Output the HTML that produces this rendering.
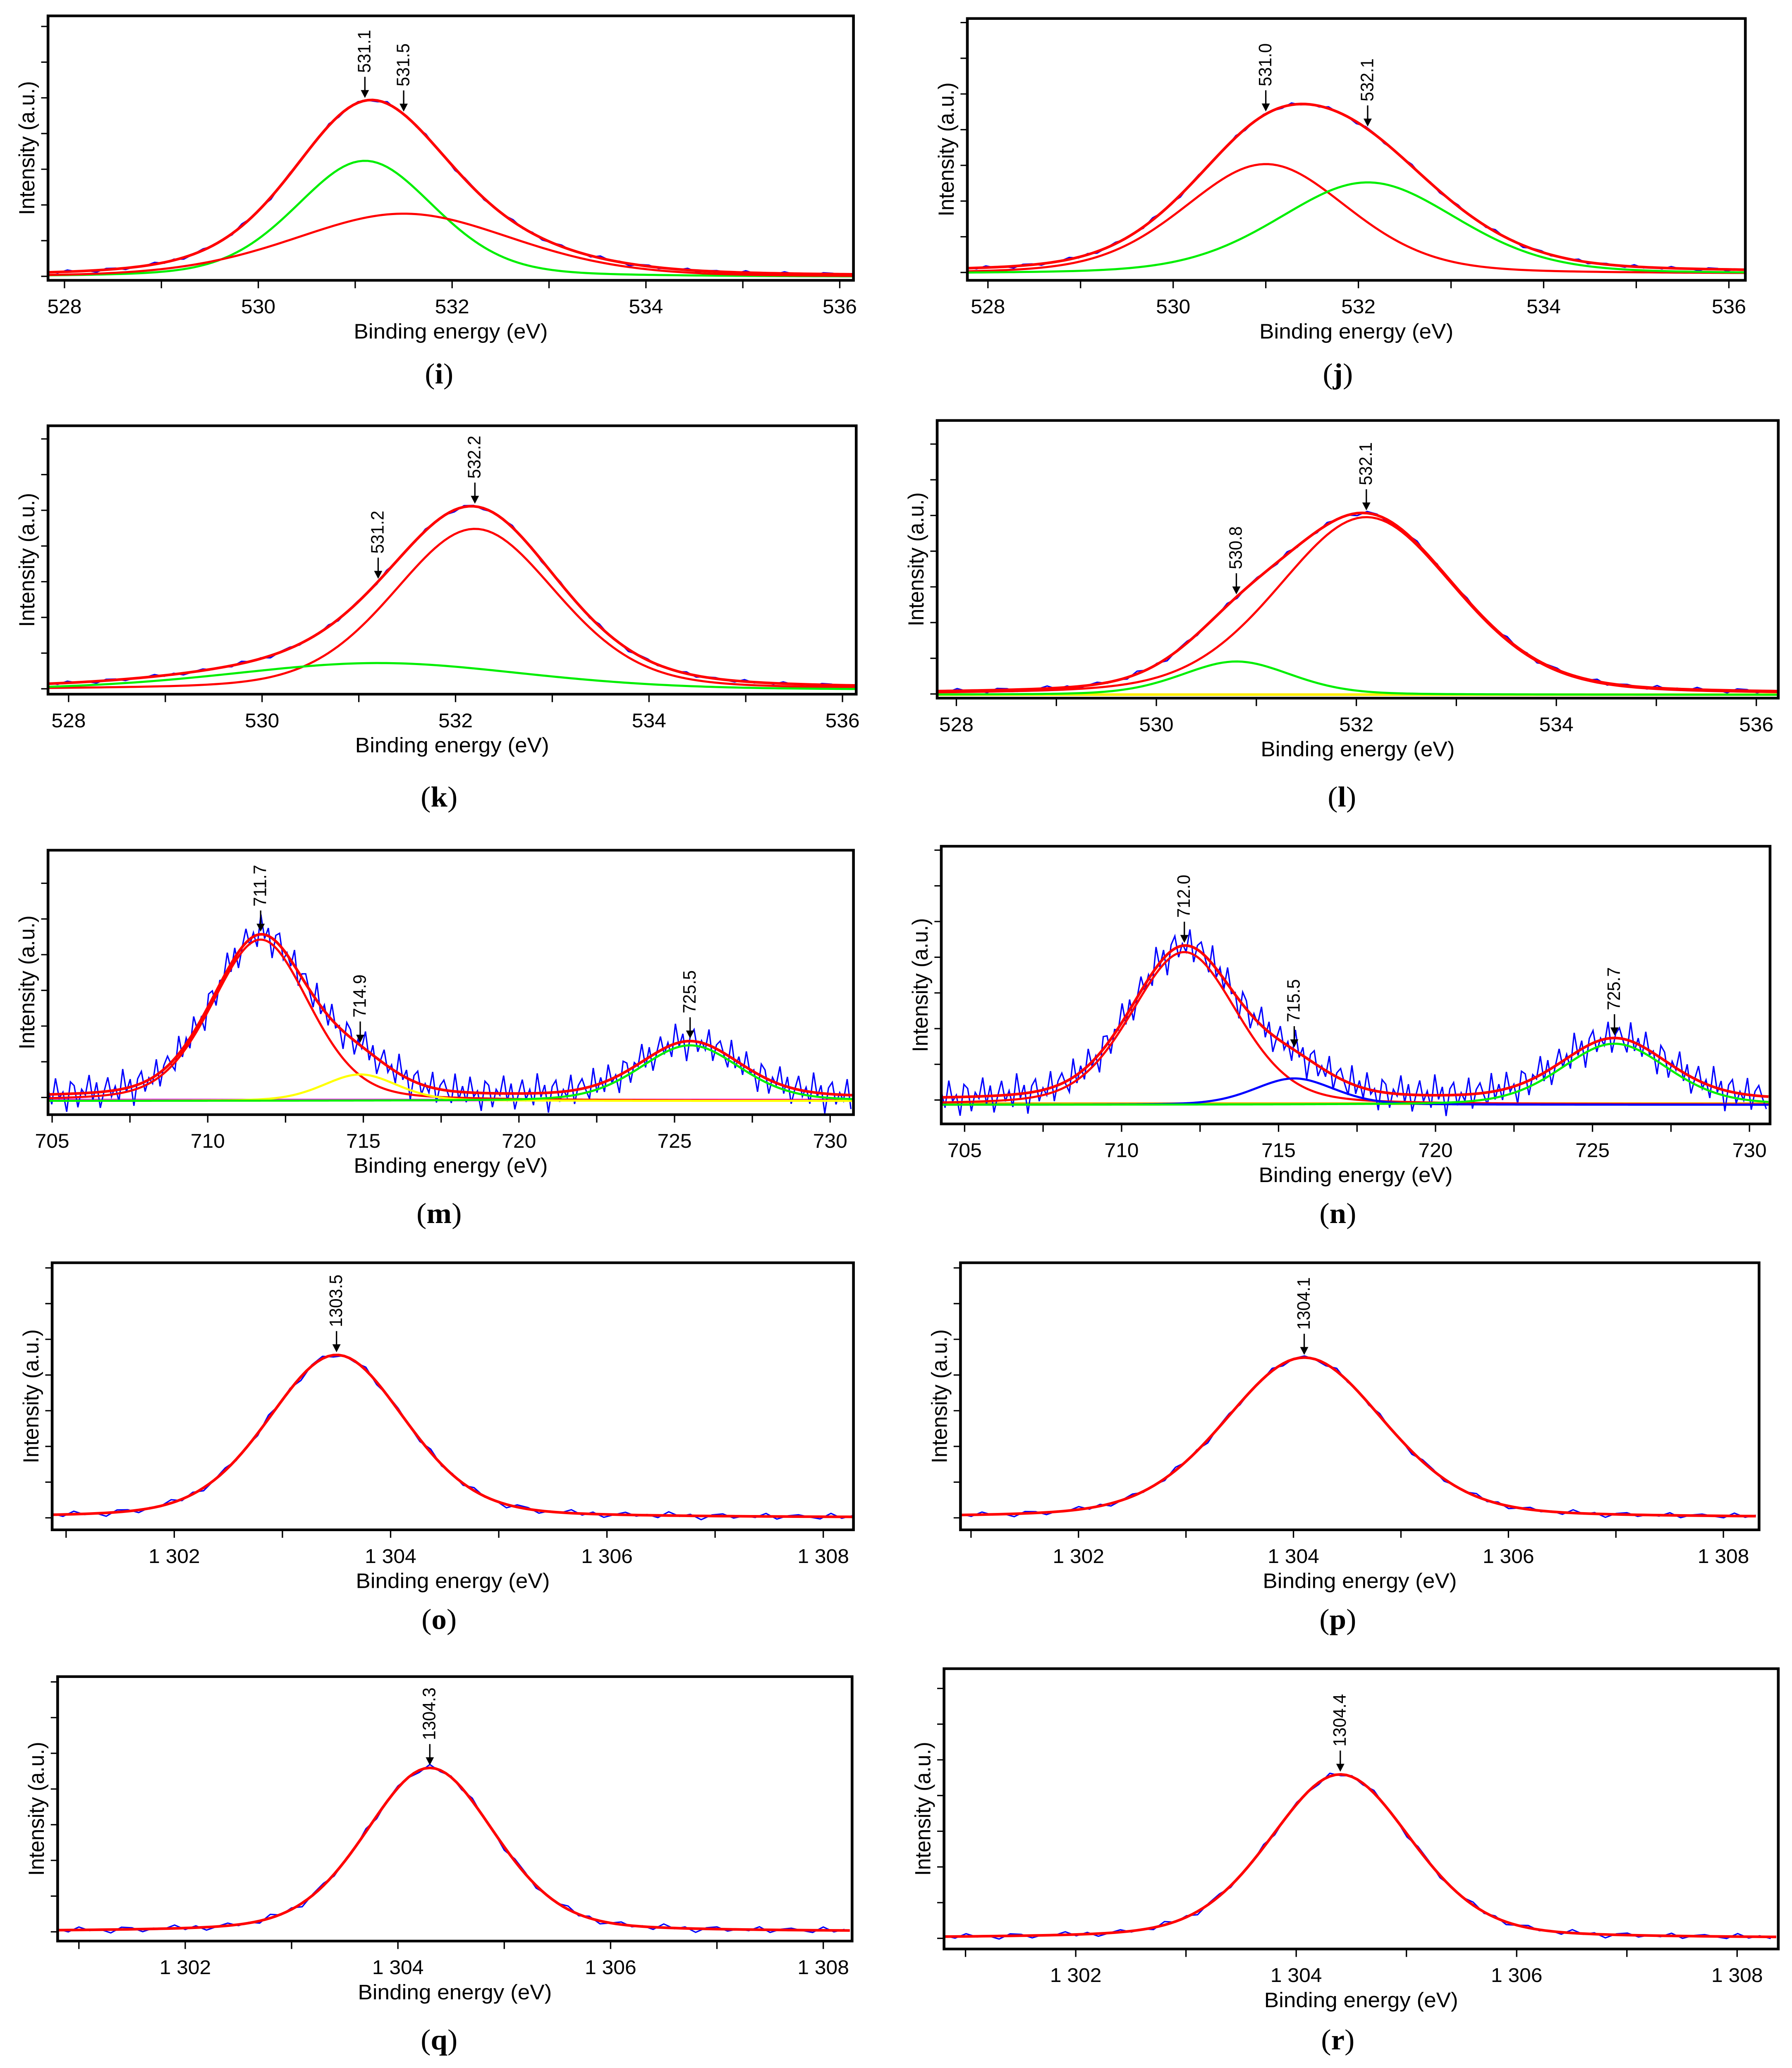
<!DOCTYPE html>
<html><head><meta charset="utf-8"><style>
html,body{margin:0;padding:0;background:#fff;overflow:hidden;width:100%;height:100%}
svg{display:block;position:fixed;left:0;top:0;width:100vw;height:100vh}
</style></head><body>
<svg id="fig" xmlns="http://www.w3.org/2000/svg" width="4333" height="5190" viewBox="0 0 1306 1564" preserveAspectRatio="none" font-family="Liberation Sans, sans-serif"></svg>
<script>
// ---- data: peak centres (eV), heights (fraction of frame), widths (HWHM eV), colours ----
const centersI=[531.1,531.5], heightsI=[0.44,0.24], widthsI=[0.85,1.35], colorsI=['#00ee00','#ff0000'];
const centersJ=[531.0,532.1], heightsJ=[0.42,0.35], widthsJ=[1.05,1.15], colorsJ=['#ff0000','#00ee00'];
const centersK=[532.2,531.2], heightsK=[0.60,0.10], widthsK=[1.0,1.8], colorsK=['#ff0000','#00ee00'];
const centersL=[532.1,530.8], heightsL=[0.64,0.12], widthsL=[1.05,0.65], colorsL=['#ff0000','#00ee00'];
const centersM=[711.7,714.9,725.5], heightsM=[0.61,0.10,0.21], widthsM=[1.85,1.4,1.9], colorsM=['#ff0000','#ffff00','#00ee00'];
const centersN=[712.0,715.5,725.7], heightsN=[0.55,0.095,0.22], widthsN=[2.0,1.5,2.0], colorsN=['#ff0000','#0000ff','#00ee00'];
const centersO=[1303.5], heightsO=[0.61], widthsO=[0.75];
const centersP=[1304.1], heightsP=[0.60], widthsP=[0.88];
const centersQ=[1304.3], heightsQ=[0.62], widthsQ=[0.72];
const centersR=[1304.4], heightsR=[0.585], widthsR=[0.76];
const baselines=[0.015,0.03,0.02,0.015,0.065,0.086,0.045,0.045,0.035,0.038];
const annotI=[531.1,531.5], annotJ=[531.0,532.1], annotK=[531.2,532.2], annotL=[530.8,532.1];
const annotM=[711.7,714.9,725.5], annotN=[712.0,715.5,725.7];
const annotO=[1303.5], annotP=[1304.1], annotQ=[1304.3], annotR=[1304.4];
const noise=[0.3,-0.5,0.8,-0.2,0.1,-0.9,0.6,0.4,-0.7,0.2,-0.1,0.9,-0.4,0.5,-0.8,0.0,0.7,-0.3,0.2,-0.6,1.0,-0.2,0.4,-1.0,0.3,0.6,-0.5,0.1,-0.3,0.8,-0.7,0.2,0.5,-0.1,-0.6,0.9,-0.4];
const ticksO2=[1302,1304,1306,1308], labelsO2=['1 302','1 304','1 306','1 308'];
const ticksO1=[528,530,532,534,536], labelsO1=['528','530','532','534','536'];
const ticksFe=[705,710,715,720,725,730], labelsFe=['705','710','715','720','725','730'];

const NS='http://www.w3.org/2000/svg';
const svg=document.getElementById('fig');
function mk(tag,attrs,parent){const e=document.createElementNS(NS,tag);for(const k in attrs)e.setAttribute(k,attrs[k]);(parent||svg).appendChild(e);return e;}
function pv(x,c,h,w){const d=(x-c)/w;return h*(0.75*Math.exp(-Math.LN2*d*d)+0.25/(1+d*d));}

const panels=[
 {id:'i',f:[35,12,622,212],xv:[528,536],xp:[47,612],t:ticksO1,l:labelsO1,minor:1,c:centersI,h:heightsI,w:widthsI,col:colorsI,a:annotI,cap:[320,290],nz:0.008,step:0.1,flat:null},
 {id:'j',f:[705,14,1272,212],xv:[528,536],xp:[720,1260],t:ticksO1,l:labelsO1,minor:1,c:centersJ,h:heightsJ,w:widthsJ,col:colorsJ,a:annotJ,cap:[975,290],nz:0.008,step:0.1,flat:null},
 {id:'k',f:[35,322,624,525],xv:[528,536],xp:[50,614],t:ticksO1,l:labelsO1,minor:1,c:centersK,h:heightsK,w:widthsK,col:colorsK,a:annotK,cap:[320,610],nz:0.008,step:0.1,flat:null},
 {id:'l',f:[683,318,1296,528],xv:[528,536],xp:[697,1280],t:ticksO1,l:labelsO1,minor:1,c:centersL,h:heightsL,w:widthsL,col:colorsL,a:annotL,cap:[978,610],nz:0.01,step:0.1,flat:'#ffee00'},
 {id:'m',f:[35,643,622,843],xv:[705,730],xp:[38,605],t:ticksFe,l:labelsFe,minor:2.5,c:centersM,h:heightsM,w:widthsM,col:colorsM,a:annotM,cap:[320,925],nz:0.075,step:0.12,flat:'#ff00ff'},
 {id:'n',f:[686,640,1290,850],xv:[705,730],xp:[703,1275],t:ticksFe,l:labelsFe,minor:2.5,c:centersN,h:heightsN,w:widthsN,col:colorsN,a:annotN,cap:[975,925],nz:0.075,step:0.12,flat:'#ffaa00'},
 {id:'o',f:[38,955,622,1157],xv:[1302,1308],xp:[127,600],t:ticksO2,l:labelsO2,minor:1,c:centersO,h:heightsO,w:widthsO,col:[],a:annotO,cap:[320,1232],nz:0.014,step:0.1,flat:null},
 {id:'p',f:[700,955,1282,1157],xv:[1302,1308],xp:[786,1256],t:ticksO2,l:labelsO2,minor:1,c:centersP,h:heightsP,w:widthsP,col:[],a:annotP,cap:[975,1232],nz:0.012,step:0.1,flat:null},
 {id:'q',f:[42,1268,621,1468],xv:[1302,1308],xp:[135,600],t:ticksO2,l:labelsO2,minor:1,c:centersQ,h:heightsQ,w:widthsQ,col:[],a:annotQ,cap:[320,1550],nz:0.014,step:0.1,flat:null},
 {id:'r',f:[688,1262,1296,1474],xv:[1302,1308],xp:[784,1266],t:ticksO2,l:labelsO2,minor:1,c:centersR,h:heightsR,w:widthsR,col:[],a:annotR,cap:[975,1550],nz:0.012,step:0.1,flat:null}
];

panels.forEach((p,pi)=>{
 const [x0,y0,x1,y1]=p.f;
 const k=(p.xp[1]-p.xp[0])/(p.xv[1]-p.xv[0]);
 const X=v=>p.xp[0]+(v-p.xv[0])*k;
 const Y=v=>y1-v*(y1-y0);
 const vmin=p.xv[0]+(x0-p.xp[0])/k, vmax=p.xv[0]+(x1-p.xp[0])/k;
 const base=baselines[pi];
 const total=x=>base+p.c.reduce((s,c,i)=>s+pv(x,c,p.h[i],p.w[i]),0);
 const g=mk('g',{});
 
 
 const clipId='clip'+p.id;
 const cp=mk('clipPath',{id:clipId},g); mk('rect',{x:x0,y:y0,width:x1-x0,height:y1-y0},cp);
 const plot=mk('g',{'clip-path':'url(#'+clipId+')'},g);
 if(p.flat){const fl=mk('line',{x1:x0,x2:x1,y1:Y(base*0.85),y2:Y(base*0.85),stroke:p.flat,'stroke-width':2},plot);
  }
 let d='',i=0;
 for(let x=vmin;x<=vmax;x+=p.step,i++){const v=total(x)+noise[i%noise.length]*p.nz;d+=(i?'L':'M')+X(x).toFixed(2)+' '+Y(v).toFixed(2);}
 const bl=mk('path',{d:d,fill:'none',stroke:'#0000ff','stroke-width':1},plot);
 
 if(p.c.length>1){p.c.forEach((c,ci)=>{let dd='',j=0;
  for(let x=vmin;x<=vmax;x+=0.05,j++){dd+=(j?'L':'M')+X(x).toFixed(2)+' '+Y(base*0.8+pv(x,c,p.h[ci],p.w[ci])).toFixed(2);}
  const cl=mk('path',{d:dd,fill:'none',stroke:p.col[ci],'stroke-width':1.6},plot);
  });}
 let td='',j=0;
 for(let x=vmin;x<=vmax;x+=0.05,j++){td+=(j?'L':'M')+X(x).toFixed(2)+' '+Y(total(x)).toFixed(2);}
 const tl=mk('path',{d:td,fill:'none',stroke:'#ff0000','stroke-width':2},plot);
 
 const fr=mk('rect',{x:x0,y:y0,width:x1-x0,height:y1-y0,fill:'none',stroke:'#000','stroke-width':2},g);
 
 const ys=0.135*200/(y1-y0);
 for(let v=base;v<1;v+=ys){mk('line',{x1:x0-5,x2:x0,y1:Y(v),y2:Y(v),stroke:'#000','stroke-width':1},g);}
 for(let v=Math.ceil(vmin/p.minor)*p.minor;v<=vmax+1e-6;v+=p.minor){mk('line',{x1:X(v),x2:X(v),y1:y1,y2:y1+6,stroke:'#000','stroke-width':1},g);}
 p.t.forEach((v,ti)=>{const tx=mk('text',{x:X(v),y:y1+25,'font-size':15,'text-anchor':'middle'},g);tx.textContent=p.l[ti];
  });
 const xt=mk('text',{x:(x0+x1)/2,y:y1+44,'font-size':16,'text-anchor':'middle'},g);xt.textContent='Binding energy (eV)';
 
 const yt=mk('text',{x:0,y:0,'font-size':16,'text-anchor':'middle',transform:'translate('+(x0-10)+','+((y0+y1)/2)+') rotate(-90)'},g);yt.textContent='Intensity (a.u.)';
 
 p.a.forEach(v=>{const px=X(v),py=Y(total(v))-2;
  mk('line',{x1:px,x2:px,y1:py-16,y2:py-4,stroke:'#000','stroke-width':1},g);
  mk('path',{d:'M'+(px-3)+' '+(py-6)+'L'+(px+3)+' '+(py-6)+'L'+px+' '+py+'Z',fill:'#000'},g);
  const at=mk('text',{x:0,y:0,'font-size':13,transform:'translate('+(px+4)+','+(py-19)+') rotate(-90)'},g);at.textContent=v.toFixed(1);
  });
 const cap=mk('text',{x:p.cap[0],y:p.cap[1],'font-size':22,'text-anchor':'middle','font-family':'Liberation Serif, serif'},g);
 cap.innerHTML='(<tspan font-weight="bold">'+p.id+'</tspan>)';
 
});
</script>
</body></html>
